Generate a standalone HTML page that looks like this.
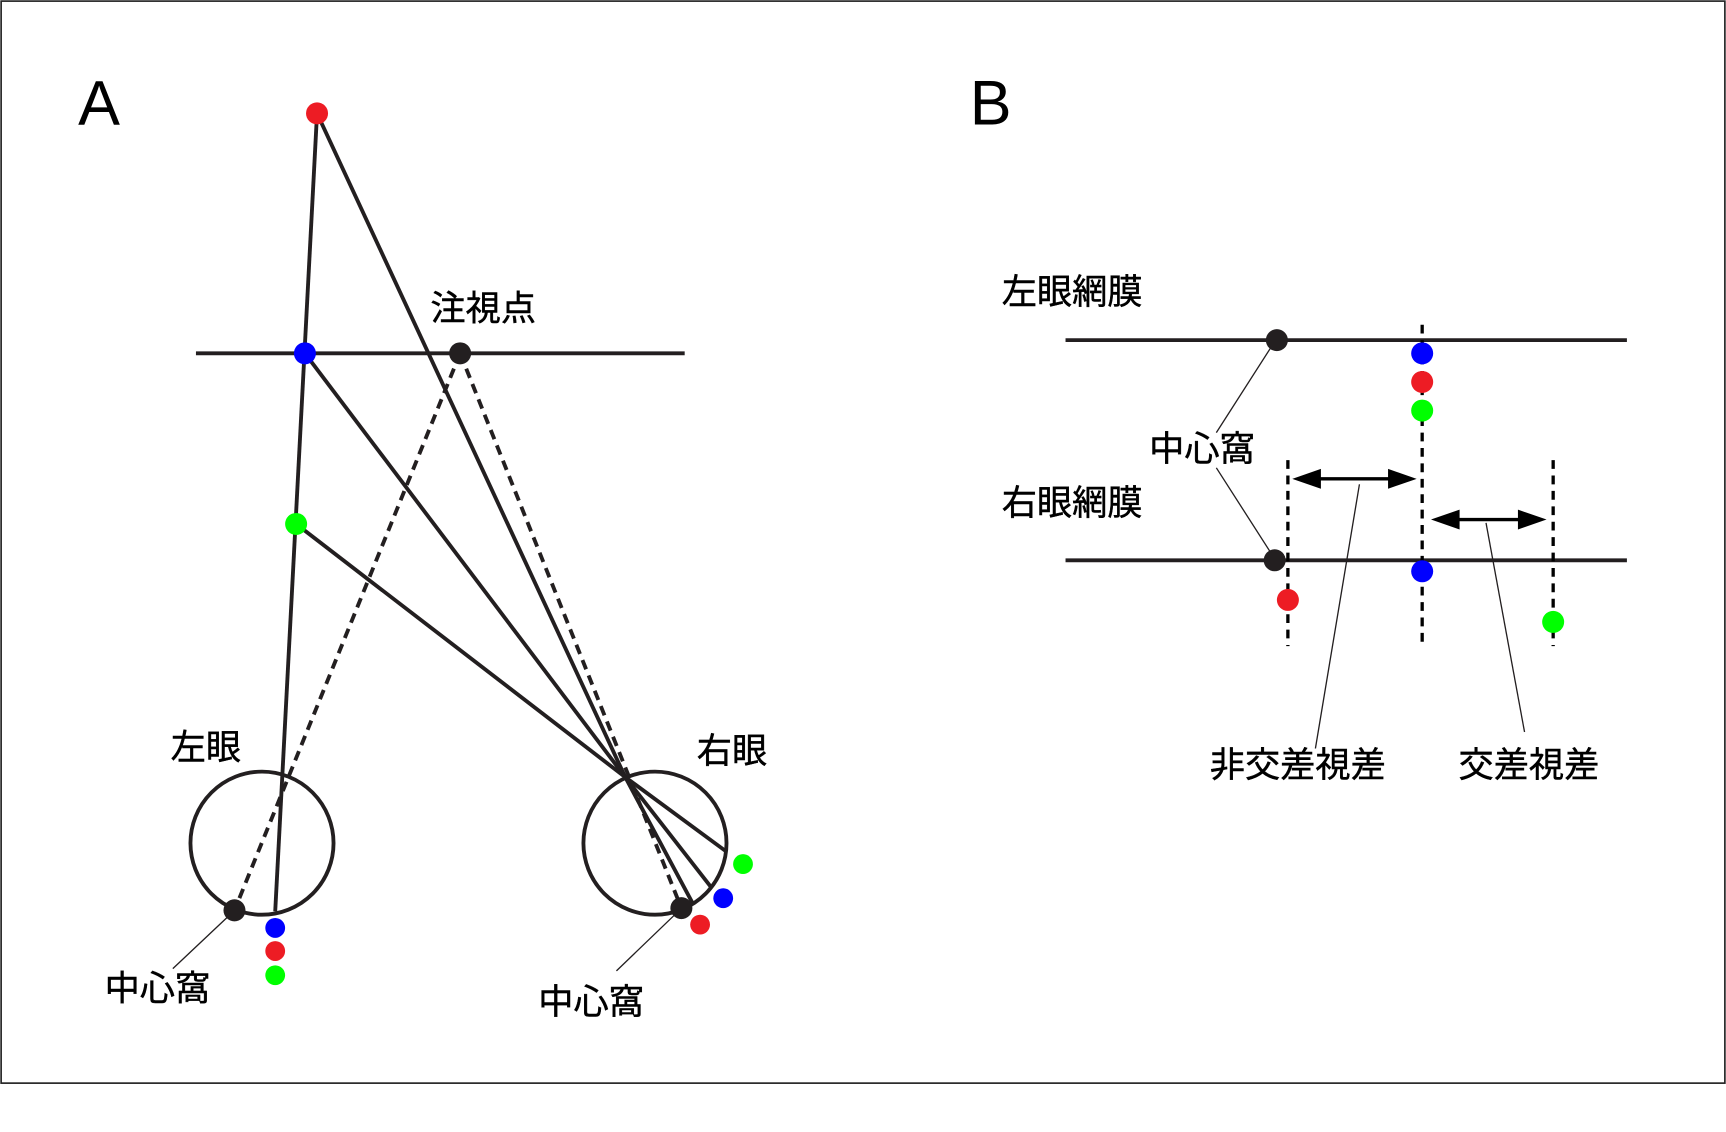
<!DOCTYPE html>
<html><head><meta charset="utf-8"><style>html,body{margin:0;padding:0;background:#fff}svg{display:block}</style></head>
<body>
<svg width="1726" height="1132" viewBox="0 0 1568 1028.4" xmlns="http://www.w3.org/2000/svg" font-family="'Liberation Sans','Noto Sans CJK JP',sans-serif">
<rect x="1" y="1" width="1566" height="983" fill="#fff" stroke="#222" stroke-width="1.5"/>
<text x="71" y="113" font-size="57">A</text>
<text x="881" y="113" font-size="57">B</text>
<g stroke="#231f20" stroke-width="3.5" fill="none">
<line x1="178" y1="321" x2="622" y2="321"/>
<line x1="288" y1="103" x2="250" y2="828"/>
<line x1="288" y1="103" x2="568" y2="706"/>
<line x1="568" y1="706" x2="630" y2="822"/>
<line x1="277" y1="321" x2="568" y2="706"/>
<line x1="568" y1="706" x2="646" y2="806"/>
<line x1="269" y1="476" x2="568" y2="706"/>
<line x1="568" y1="706" x2="659" y2="773"/>
<circle cx="238" cy="766" r="65"/>
<circle cx="595" cy="766" r="65"/>
<g stroke-dasharray="9,6">
<line x1="418" y1="321" x2="213" y2="827"/>
<line x1="418" y1="321" x2="619" y2="825"/>
</g>
</g>
<g stroke="#231f20" stroke-width="1.2">
<line x1="157" y1="880" x2="210" y2="830"/>
<line x1="560" y1="882" x2="612" y2="832"/>
<line x1="1105" y1="393" x2="1155" y2="315"/>
<line x1="1105" y1="425" x2="1155" y2="503"/>
<line x1="1235" y1="440" x2="1195" y2="680"/>
<line x1="1350" y1="475" x2="1385" y2="665"/>
</g>
<g stroke="#231f20" stroke-width="3.5">
<line x1="968" y1="309" x2="1478" y2="309"/>
<line x1="968" y1="509" x2="1478" y2="509"/>
</g>
<g stroke="#000" stroke-width="3" stroke-dasharray="8,6">
<line x1="1292" y1="295" x2="1292" y2="587"/>
<line x1="1170" y1="418" x2="1170" y2="587"/>
<line x1="1411" y1="418" x2="1411" y2="587"/>
</g>
<g stroke="#000" stroke-width="3">
<line x1="1195" y1="435" x2="1265" y2="435"/>
<line x1="1320" y1="472" x2="1385" y2="472"/>
</g>
<g fill="#000">
<polygon points="1174,435 1200,426 1200,444"/>
<polygon points="1287,435 1261,426 1261,444"/>
<polygon points="1300,472 1326,463 1326,481"/>
<polygon points="1405,472 1379,463 1379,481"/>
</g>
<g>
<circle cx="288" cy="103" r="10" fill="#ed1c24"/>
<circle cx="277" cy="321" r="10" fill="#0000ff"/>
<circle cx="269" cy="476" r="10" fill="#00ff00"/>
<circle cx="418" cy="321" r="10" fill="#231f20"/>
<circle cx="213" cy="827" r="10" fill="#231f20"/>
<circle cx="619" cy="825" r="10" fill="#231f20"/>
<circle cx="250" cy="843" r="9" fill="#0000ff"/>
<circle cx="250" cy="864" r="9" fill="#ed1c24"/>
<circle cx="250" cy="886" r="9" fill="#00ff00"/>
<circle cx="675" cy="785" r="9" fill="#00ff00"/>
<circle cx="657" cy="816" r="9" fill="#0000ff"/>
<circle cx="636" cy="840" r="9" fill="#ed1c24"/>
<circle cx="1160" cy="309" r="10" fill="#231f20"/>
<circle cx="1158" cy="509" r="10" fill="#231f20"/>
<circle cx="1292" cy="321" r="10" fill="#0000ff"/>
<circle cx="1292" cy="347" r="10" fill="#ed1c24"/>
<circle cx="1292" cy="373" r="10" fill="#00ff00"/>
<circle cx="1292" cy="519" r="10" fill="#0000ff"/>
<circle cx="1170" cy="545" r="10" fill="#ed1c24"/>
<circle cx="1411" cy="565" r="10" fill="#00ff00"/>
</g>
<g font-size="32" fill="#000" stroke="#000" stroke-width="0.4">
<text x="391" y="291">注視点</text>
<text x="155" y="690">左眼</text>
<text x="633" y="693">右眼</text>
<text x="95" y="909">中心窩</text>
<text x="489" y="921">中心窩</text>
<text x="910" y="276">左眼網膜</text>
<text x="910" y="468">右眼網膜</text>
<text x="1044" y="419">中心窩</text>
<text x="1099" y="706">非交差視差</text>
<text x="1325" y="706">交差視差</text>
</g>
</svg>
</body></html>
